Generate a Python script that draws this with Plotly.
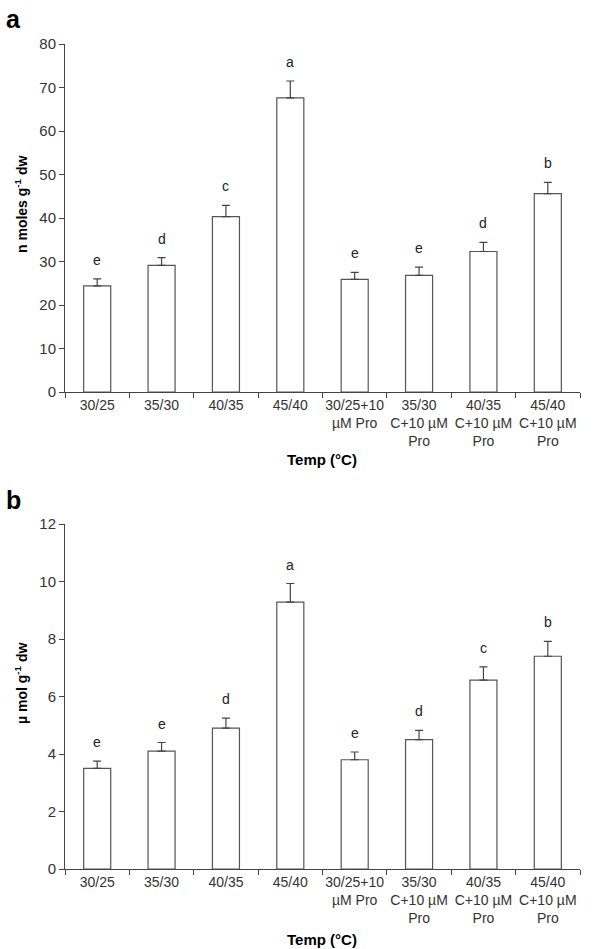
import plotly.graph_objects as go
from plotly.subplots import make_subplots

categories = ["30/25", "35/30", "40/35", "45/40",
              "30/25+10<br>µM Pro", "35/30<br>C+10 µM<br>Pro",
              "40/35<br>C+10 µM<br>Pro", "45/40<br>C+10 µM<br>Pro"]

a_values = [24.4, 29.1, 40.3, 67.6, 25.9, 26.8, 32.3, 45.6]
a_errors = [1.6, 1.8, 2.6, 3.9, 1.6, 1.9, 2.1, 2.6]
a_letters = ["e", "d", "c", "a", "e", "e", "d", "b"]

b_values = [3.5, 4.1, 4.9, 9.28, 3.8, 4.5, 6.57, 7.4]
b_errors = [0.25, 0.3, 0.35, 0.65, 0.27, 0.32, 0.46, 0.52]
b_letters = ["e", "e", "d", "a", "e", "d", "c", "b"]

W, H = 597, 949
L, R, T, B = 65, 17, 44, 80
PW, PH = W - L - R, H - T - B

def px(x):
    return (x - L) / PW

def py(y):
    return (H - B - y) / PH

a_bot, b_top = 392, 524
fig = make_subplots(rows=2, cols=1)
fig.update_layout(
    xaxis=dict(domain=[0, 1], anchor="y"),
    yaxis=dict(domain=[py(a_bot), 1.0], anchor="x"),
    xaxis2=dict(domain=[0, 1], anchor="y2"),
    yaxis2=dict(domain=[0, py(b_top)], anchor="x2"),
)

font_fam = "Liberation Sans, Arial, sans-serif"
bar_line = dict(color="#555555", width=1.2)
err_style = dict(type="data", symmetric=False, color="#444444", thickness=1.2, width=4)

fig.add_trace(go.Bar(x=categories, y=a_values, width=0.42,
                     marker=dict(color="white", line=bar_line),
                     error_y=dict(array=a_errors, arrayminus=[0]*8, **err_style),
                     showlegend=False, hoverinfo="skip"), row=1, col=1)
fig.add_trace(go.Bar(x=categories, y=b_values, width=0.42,
                     marker=dict(color="white", line=bar_line),
                     error_y=dict(array=b_errors, arrayminus=[0]*8, **err_style),
                     showlegend=False, hoverinfo="skip"), row=2, col=1)

annots = []
for i, c in enumerate(categories):
    annots.append(dict(x=c, y=a_values[i] + a_errors[i], xref="x", yref="y",
                       text=a_letters[i], showarrow=False, yanchor="bottom",
                       yshift=9, font=dict(size=14, color="#222")))
    annots.append(dict(x=c, y=b_values[i] + b_errors[i], xref="x2", yref="y2",
                       text=b_letters[i], showarrow=False, yanchor="bottom",
                       yshift=9, font=dict(size=14, color="#222")))

def pa(x, y, text, size, angle=0, color="black"):
    return dict(x=px(x), y=py(y), xref="paper", yref="paper", text=text,
                xanchor="center", yanchor="middle", textangle=angle,
                showarrow=False, font=dict(size=size, color=color))

annots.append(pa(13, 19, "<b>a</b>", 25))
annots.append(pa(13, 500, "<b>b</b>", 25))
annots.append(pa(322, 459, "<b>Temp (°C)</b>", 15))
annots.append(pa(322, 939, "<b>Temp (°C)</b>", 15))
annots.append(pa(21, 204, "<b>n moles g<sup>-1</sup> dw</b>", 14, -90))
annots.append(pa(21, 684, "<b>µ mol g<sup>-1</sup> dw</b>", 14, -90))

fig.update_layout(
    width=W, height=H,
    margin=dict(l=L, r=R, t=T, b=B, autoexpand=False),
    plot_bgcolor="white", paper_bgcolor="white",
    font=dict(family=font_fam, size=14, color="#222"),
    annotations=annots,
)

xa = dict(showline=True, linecolor="#444", linewidth=1, ticks="outside",
          tickson="boundaries", ticklen=5, tickcolor="#444", showgrid=False,
          tickangle=0, tickfont=dict(size=14, color="#333"), automargin=False)
fig.update_xaxes(**xa)
ya = dict(showline=True, linecolor="#444", linewidth=1, ticks="outside",
          ticklen=5, tickcolor="#444", showgrid=False, zeroline=False,
          tickfont=dict(size=15, color="#333"), automargin=False)
fig.update_yaxes(range=[0, 80], dtick=10, row=1, col=1, **ya)
fig.update_yaxes(range=[0, 12], dtick=2, row=2, col=1, **ya)

fig.write_html("out.html", config={"displayModeBar": False},
               post_script="document.body.style.margin='0';document.body.style.overflow='hidden';")
